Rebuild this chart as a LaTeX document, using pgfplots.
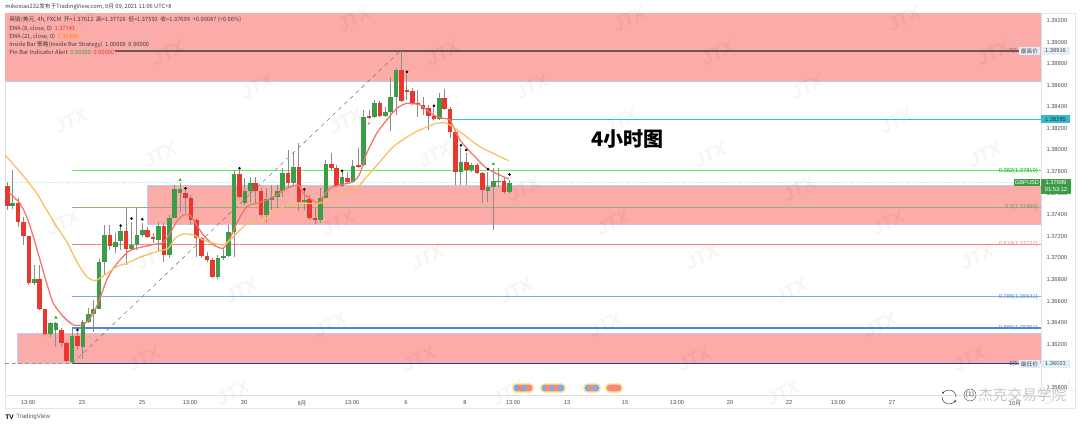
\documentclass[border=0pt]{standalone}
\usepackage{fontspec}
\usepackage{pgfplots}
\usepackage{pgfplotstable}
\pgfplotsset{compat=1.18}
\setmainfont{Liberation Sans}
\newfontfamily\cjk{Noto Sans CJK SC}
\usetikzlibrary{arrows.meta}
\definecolor{zone}{HTML}{FBABA8}
\definecolor{zoneedge}{HTML}{BFC9F2}
\definecolor{cup}{HTML}{3D9C48}
\definecolor{cdown}{HTML}{E8382E}
\definecolor{wick}{HTML}{8C8C8C}
\definecolor{emared}{HTML}{F4746C}
\definecolor{emaorg}{HTML}{F9BE62}
\definecolor{fgreen}{HTML}{62EE62}
\definecolor{folive}{HTML}{98AE78}
\definecolor{fred}{HTML}{F98684}
\definecolor{fblue}{HTML}{82A9EC}
\definecolor{fblue2}{HTML}{4F86E0}
\definecolor{fnavy}{HTML}{27408B}
\definecolor{fcyan}{HTML}{33BBCF}
\definecolor{ftop}{HTML}{6E5656}
\definecolor{paleb}{HTML}{E3EEFB}
\pgfplotstableread{
i o h l c
1 1.37485 1.37815 1.37451 1.37513
5 1.36766 1.36936 1.36750 1.36803
8 1.36300 1.36411 1.36272 1.36395
9 1.36331 1.36411 1.36179 1.36395
12 1.36041 1.36349 1.36031 1.36278
14 1.36173 1.36426 1.36065 1.36411
15 1.36408 1.36534 1.36395 1.36482
16 1.36482 1.36611 1.36318 1.36531
17 1.36531 1.36988 1.36525 1.36966
18 1.36966 1.37306 1.36843 1.37213
20 1.37102 1.37229 1.37044 1.37151
21 1.37155 1.37290 1.37074 1.37253
23 1.37081 1.37337 1.37074 1.37118
24 1.37118 1.37476 1.37074 1.37213
25 1.37213 1.37321 1.37198 1.37263
28 1.37167 1.37337 1.37059 1.37297
30 1.37028 1.37398 1.36997 1.37374
31 1.37374 1.37676 1.37368 1.37636
32 1.37605 1.37692 1.37429 1.37636
39 1.36821 1.37028 1.36803 1.37003
40 1.37003 1.37105 1.36982 1.37019
41 1.37019 1.37306 1.37006 1.37241
42 1.37241 1.37815 1.37013 1.37775
44 1.37506 1.37737 1.37490 1.37623
45 1.37623 1.37753 1.37506 1.37691
48 1.37401 1.37645 1.37336 1.37546
49 1.37537 1.37676 1.37444 1.37568
50 1.37561 1.37676 1.37460 1.37623
51 1.37623 1.37830 1.37568 1.37790
53 1.37691 1.37984 1.37676 1.37839
55 1.37515 1.37629 1.37444 1.37537
58 1.37352 1.37645 1.37321 1.37558
59 1.37558 1.37907 1.37552 1.37867
62 1.37669 1.37799 1.37660 1.37747
64 1.37700 1.37907 1.37697 1.37855
66 1.37861 1.38370 1.37851 1.38308
68 1.38302 1.38463 1.38293 1.38438
70 1.38317 1.38401 1.38308 1.38348
71 1.38348 1.38679 1.38179 1.38493
72 1.38493 1.38756 1.38324 1.38740
80 1.38283 1.38524 1.38277 1.38478
84 1.37799 1.38015 1.37676 1.37892
86 1.37815 1.37876 1.37799 1.37864
89 1.37623 1.37799 1.37521 1.37654
90 1.37654 1.37836 1.37259 1.37710
91 1.37706 1.37830 1.37660 1.37713
93 1.37612 1.37726 1.37592 1.37699
}\upbars
\pgfplotstableread{
i o h l c
0 1.37667 1.37707 1.37445 1.37485
2 1.37513 1.37553 1.37290 1.37331
3 1.37331 1.37383 1.37121 1.37204
4 1.37204 1.37204 1.36750 1.36766
6 1.36803 1.36936 1.36519 1.36528
7 1.36528 1.36528 1.36287 1.36300
10 1.36331 1.36349 1.36179 1.36213
11 1.36213 1.36226 1.36041 1.36050
13 1.36281 1.36318 1.36149 1.36189
19 1.37213 1.37306 1.37074 1.37111
22 1.37253 1.37476 1.36936 1.37081
26 1.37263 1.37290 1.37182 1.37192
27 1.37192 1.37229 1.37136 1.37173
29 1.37297 1.37321 1.36966 1.37028
33 1.37605 1.37645 1.37414 1.37553
34 1.37553 1.37584 1.37306 1.37352
35 1.37352 1.37368 1.37013 1.37182
36 1.37182 1.37198 1.36997 1.37019
37 1.37019 1.37059 1.36966 1.36982
38 1.36982 1.36997 1.36812 1.36821
43 1.37774 1.37815 1.37552 1.37568
46 1.37691 1.37753 1.37506 1.37623
47 1.37623 1.37645 1.37382 1.37401
52 1.37790 1.38000 1.37660 1.37691
54 1.37839 1.38061 1.37438 1.37515
56 1.37543 1.37583 1.37352 1.37367
57 1.37367 1.37460 1.37315 1.37352
60 1.37867 1.37969 1.37814 1.37833
61 1.37833 1.37861 1.37660 1.37669
63 1.37740 1.37799 1.37691 1.37700
65 1.37858 1.38015 1.37830 1.37842
67 1.38314 1.38370 1.38293 1.38299
69 1.38438 1.38453 1.38308 1.38317
73 1.38740 1.38916 1.38447 1.38453
74 1.38555 1.38709 1.38463 1.38540
75 1.38549 1.38571 1.38416 1.38432
76 1.38438 1.38555 1.38308 1.38422
77 1.38416 1.38493 1.38324 1.38379
78 1.38385 1.38416 1.38185 1.38314
79 1.38314 1.38401 1.38277 1.38283
81 1.38478 1.38561 1.38370 1.38379
82 1.38379 1.38401 1.38108 1.38169
83 1.38169 1.38185 1.37676 1.37799
85 1.37892 1.37969 1.37676 1.37815
87 1.37861 1.37876 1.37784 1.37790
88 1.37790 1.37799 1.37506 1.37629
92 1.37710 1.37737 1.37592 1.37614
}\downbars
\newcommand{\fsmall}{\fontsize{4.3}{5}\selectfont}
\begin{document}
\begin{tikzpicture}
\path[use as bounding box] (0,0) rectangle (810pt,320.25pt);
\begin{axis}[
  at={(3.75pt,24pt)}, anchor=south west,
  scale only axis, width=777pt, height=286.5pt,
  xmin=5, xmax=1041, ymin=1.35731, ymax=1.39269,
  axis line style={draw=black!12, line width=0.4pt},
  tick style={draw=none},
  yticklabel pos=right,
  ytick={1.358,1.360,1.362,1.364,1.366,1.368,1.370,1.372,1.374,1.376,1.378,1.380,1.382,1.384,1.386,1.388,1.390,1.392},
  /pgf/number format/fixed,
  /pgf/number format/fixed zerofill,
  /pgf/number format/precision=5,
  /pgf/number format/assume math mode=true,
  /pgf/number format/1000 sep={},
  scaled y ticks=false,
  ticklabel style={font=\fsmall, text=black!70},
  xtick={28,82,142,190,244,302,352,406,465,513,567,625,677,730,789,838,892,1015},
  xticklabels={13:00,23,25,13:00,30,{\cjk 8月},13:00,6,8,13:00,13,15,13:00,20,22,13:00,27,{\cjk 10月}},
  xticklabel style={yshift=-0.6pt},
  yticklabel style={xshift=0.6pt},
  clip=true,
]
% zones
\addplot[fill=zone, draw=none, forget plot] coordinates {(5,1.39269)(1041,1.39269)(1041,1.38639)(5,1.38639)} -- cycle;
\addplot[fill=zone, draw=zoneedge, line width=0.7pt, forget plot] coordinates {(147.3,1.37669)(1041,1.37669)(1041,1.37312)(147.3,1.37312)} -- cycle;
\addplot[fill=zone, draw=zoneedge, line width=0.7pt, forget plot] coordinates {(17.5,1.36303)(1041,1.36303)(1041,1.36021)(17.5,1.36021)} -- cycle;
\addplot[zoneedge, line width=0.7pt, forget plot] coordinates {(5,1.38639)(1041,1.38639)};
% pale current price line
\addplot[fgreen!45, densely dotted, line width=0.4pt, forget plot] coordinates {(5,1.37699)(1041,1.37699)};
% fib levels
\addplot[ftop, line width=1pt, forget plot] coordinates {(115,1.38916)(1019,1.38916)};
\addplot[fcyan, line width=1pt, forget plot] coordinates {(452,1.38284)(1041,1.38284)};
\addplot[fgreen, line width=1.1pt, forget plot] coordinates {(72,1.37810)(1041,1.37810)};
\addplot[folive, line width=1.1pt, forget plot] coordinates {(72,1.37469)(1041,1.37469)};
\addplot[fred, line width=1pt, forget plot] coordinates {(72,1.37127)(1041,1.37127)};
\addplot[fblue, line width=1pt, forget plot] coordinates {(72,1.36641)(1041,1.36641)};
\addplot[fblue2, line width=1pt, forget plot] coordinates {(72,1.36351)(1041,1.36351)};
\addplot[fnavy, line width=1.1pt, forget plot] coordinates {(72,1.36021)(1019,1.36021)};
\addplot[black!40, densely dashed, line width=0.35pt, forget plot] coordinates {(5,1.36021)(72,1.36021)};
\addplot[black!50, dashed, line width=0.45pt, forget plot] coordinates {(72,1.36021)(400,1.38916)};
% wicks
\addplot[draw=none, mark=none, forget plot, error bars/.cd, y dir=both, y explicit, error mark=none, error bar style={wick, line width=0.7pt}]
  table[x expr=7.3+5.4*\thisrow{i}, y=c, y error plus expr=\thisrow{h}-\thisrow{c}, y error minus expr=\thisrow{c}-\thisrow{l}] {\upbars};
\addplot[draw=none, mark=none, forget plot, error bars/.cd, y dir=both, y explicit, error mark=none, error bar style={wick, line width=0.7pt}]
  table[x expr=7.3+5.4*\thisrow{i}, y=c, y error plus expr=\thisrow{h}-\thisrow{c}, y error minus expr=\thisrow{c}-\thisrow{l}] {\downbars};
% bodies
\addplot[draw=none, mark=none, forget plot, error bars/.cd, y dir=both, y explicit, error mark=none, error bar style={cup, line width=3.4pt}]
  table[x expr=7.3+5.4*\thisrow{i}, y=c, y error plus expr=0, y error minus expr=\thisrow{c}-\thisrow{o}] {\upbars};
\addplot[draw=none, mark=none, forget plot, error bars/.cd, y dir=both, y explicit, error mark=none, error bar style={cdown, line width=3.4pt}]
  table[x expr=7.3+5.4*\thisrow{i}, y=o, y error plus expr=0, y error minus expr=\thisrow{o}-\thisrow{c}] {\downbars};
% EMA 8
\addplot[emared, line width=0.95pt, smooth, tension=0.4, forget plot] coordinates {
(9.3,1.37605)(15,1.37553)(20,1.37506)(26.7,1.37383)(33.3,1.37198)(40,1.36982)(46.7,1.36766)(53.3,1.36581)(63.3,1.36457)(73.3,1.36380)(81.7,1.36380)(88.3,1.36420)(95,1.36519)(100,1.36627)(106.7,1.36797)(113.3,1.36905)(120,1.36982)(128.3,1.37059)(136.7,1.37090)(146.7,1.37111)(156.7,1.37130)(163.3,1.37142)(170,1.37229)(176.7,1.37337)(183.3,1.37398)(190,1.37398)(196.7,1.37306)(203.3,1.37213)(213.3,1.37121)(223.3,1.37090)(230,1.37182)(236.7,1.37321)(246.7,1.37475)(256.7,1.37506)(266.7,1.37537)(276.7,1.37583)(286.7,1.37645)(298.3,1.37676)(303.3,1.37598)(310,1.37552)(318.3,1.37506)(323.3,1.37568)(330,1.37645)(340,1.37676)(353.3,1.37706)(360,1.37784)(366.7,1.37969)(376.7,1.38154)(386.7,1.38277)(396.7,1.38385)(406.7,1.38432)(420,1.38416)(433.3,1.38324)(443.3,1.38293)(450,1.38277)(460,1.38092)(473.3,1.37953)(486.7,1.37830)(503.3,1.37753)(508.7,1.37734)};
% EMA 21
\addplot[emaorg, line width=0.95pt, smooth, tension=0.4, forget plot] coordinates {
(5,1.37954)(18.3,1.37815)(26.7,1.37722)(36.7,1.37599)(46.7,1.37445)(56.7,1.37290)(66.7,1.37152)(76.7,1.36966)(86.7,1.36828)(95,1.36790)(103.3,1.36834)(116.7,1.36920)(126.7,1.36951)(140,1.37006)(156.7,1.37059)(168.3,1.37090)(175,1.37182)(183.3,1.37222)(193.3,1.37213)(203.3,1.37167)(213.3,1.37136)(223.3,1.37121)(230,1.37167)(240,1.37260)(250,1.37337)(263.3,1.37352)(276.7,1.37429)(286.7,1.37490)(303.3,1.37506)(320,1.37506)(330,1.37552)(343.3,1.37598)(356.7,1.37645)(366.7,1.37753)(380,1.37892)(393.3,1.38030)(410,1.38138)(423.3,1.38200)(436.7,1.38247)(446.7,1.38247)(460,1.38169)(480,1.38030)(508.7,1.37901)};
% signal marks
\addplot[only marks, mark=*, mark size=0.75pt, black, forget plot] coordinates {
(77.5,1.36334)(120.7,1.37300)(131.5,1.37365)(142.3,1.37358)(185.5,1.37645)(239.5,1.37830)(304.3,1.37635)(342.1,1.37808)(406.9,1.38725)(433.9,1.38410)(460.9,1.38043)(466.3,1.38000)(487.9,1.37824)(509.5,1.37774)};
\addplot[only marks, mark=triangle*, mark size=1pt, green!70!black, opacity=0.8, forget plot] coordinates {(55.9,1.36448)(180.1,1.37722)(493.3,1.37870)};
\addplot[only marks, mark=triangle*, mark size=1pt, mark options={rotate=180}, fred, forget plot] coordinates {(369.1,1.38246)};
\end{axis}
\begin{scope}[x=0.75pt,y=-0.75pt,shift={(0pt,320.25pt)}]
% frame
\draw[black!10, line width=0.4pt] (5,408) -- (1075,408) -- (1075,13) -- (1041,13);
\draw[black!10, line width=0.4pt] (5,395) -- (5,408);
% header and legend
\tikzset{lg/.style={anchor=west, inner sep=0pt, font=\fsmall\cjk, text=black!75}}
\node[lg] at (5,7) {mikoxiao232发布于TradingView.com, 9月 09, 2021 11:06 UTC+8};
\node[lg] at (9,20) {英镑/美元, 4h, FXCM\ \ 开=1.37612\ \ 高=1.37726\ \ 低=1.37592\ \ 收=1.37699\ \ +0.00087 (+0.06\%)};
\node[lg] at (9,28.5) {EMA (8, close, 0)\ \ \textcolor{cdown}{1.37741}};
\node[lg] at (9,37) {EMA (21, close, 0)\ \ \textcolor{orange}{1.37900}};
\node[lg] at (9,45) {Inside Bar 策略(Inside Bar Strategy)\ \ 1.00000\ \ 0.00000};
\node[lg] at (9,52.5) {Pin Bar Indicator Alert\ \ \textcolor{cup}{0.00000}\ \ \textcolor{cdown}{0.00000}};
% chart title
\node[inner sep=0pt, text=black] at (627.5,139) {\fontsize{15}{16}\selectfont\cjk\bfseries 4小时图};
% fib labels
\tikzset{fb/.style={anchor=east, inner sep=0pt, font=\fsmall}}
\node[fb, text=green!70!black] at (1038,170.7) {0.382(1.37810)};
\node[fb, text=folive!85!black] at (1038,207) {0.5(1.37469)};
\node[fb, text=fred] at (1038,244) {0.618(1.37127)};
\node[fb, text=fblue2] at (1038,297) {0.786(1.36641)};
\node[fb, text=fblue2] at (1038,328) {0.886(1.36351)};
\node[fb, anchor=west, text=ftop] at (1009,51) {0(1.38916)};
\node[fb, anchor=west, text=fnavy] at (1009,364) {1(1.36021)};
% price boxes
\fill[paleb] (1019,47.5) rectangle (1040,55);
\node[inner sep=0pt, font=\fsmall\cjk, text=black!70] at (1029.5,51) {最高价};
\fill[paleb] (1041,47.5) rectangle (1070,55);
\node[inner sep=0pt, font=\fsmall, text=black!70] at (1055.5,51) {1.38916};
\fill[paleb] (1019,360) rectangle (1040,368);
\node[inner sep=0pt, font=\fsmall\cjk, text=black!70] at (1029.5,364) {最低价};
\fill[paleb] (1041,360) rectangle (1070,368);
\node[inner sep=0pt, font=\fsmall, text=black!70] at (1055.5,364) {1.36021};
\fill[fcyan] (1041,115) rectangle (1070,123.5);
\node[inner sep=0pt, font=\fsmall, text=black!80] at (1055.5,119.3) {1.38285};
\fill[cup] (1014,179.5) rectangle (1040,186.5);
\node[inner sep=0pt, font=\fsmall, text=white] at (1027,183) {GBPUSD};
\fill[cup] (1041,179.5) rectangle (1071,194);
\node[inner sep=0pt, font=\fsmall, text=white] at (1056,183) {1.37699};
\node[inner sep=0pt, font=\fsmall, text=white] at (1056,189.8) {01:53:12};
% event icons
\foreach \xx/\cc in {517/fblue,521/fred,525/fblue,529/fred,545/fblue,549/fred,553/fblue,557/fred,561/fblue,588/fblue,592/fred,596/fblue,610/fred,614/fred,618/fred}{
  \fill[yellow!60!orange, opacity=0.5] (\xx,388) circle[radius=5];
}
\foreach \xx/\cc in {517/fblue,521/fred,525/fblue,529/fred,545/fblue,549/fred,553/fblue,557/fred,561/fblue,588/fblue,592/fred,596/fblue,610/fred,614/fred,618/fred}{
  \fill[\cc] (\xx,388) circle[radius=3.4];
}
% TradingView mark
\node[anchor=west, inner sep=0pt, font=\fontsize{5}{5}\selectfont\bfseries] at (5,417) {TV};
\node[anchor=west, inner sep=0pt, font=\fontsize{4.6}{5}\selectfont, text=black!65] at (16,417) {TradingView};
% site watermark
\draw[black!80, line width=0.35pt, -{Latex[length=2pt]}] (942,397) arc[start angle=180,end angle=20,radius=7];
\draw[black!80, line width=0.35pt, -{Latex[length=2pt]}] (956,397) arc[start angle=0,end angle=-160,radius=7];
\draw[black!75, line width=0.3pt] (970,395) circle[radius=6];
\node[inner sep=0pt, font=\fontsize{5}{5}\selectfont, text=black!75] at (970,395) {(1)};
\node[anchor=west, inner sep=0pt, font=\fontsize{11}{12}\selectfont\cjk, text=black!22] at (978,395) {杰克交易学院};
% JTX watermark
\foreach \k in {0,...,11}{
  \pgfmathsetmacro\xo{mod(233+186*\k,275)}
  \pgfmathsetmacro\yo{393-34*\k}
  \foreach \m in {0,1,2,3}{
    \pgfmathsetmacro\xp{\xo+275*\m}
    \pgfmathtruncatemacro\keep{and(\xp>18,\xp<1060)}
    \ifnum\keep=1
      \node[rotate=28, inner sep=0pt, text=black, opacity=0.04, font=\fontsize{14}{14}\selectfont\bfseries\itshape] at (\xp,\yo) {JTX};
    \fi
  }
}
\end{scope}
\end{tikzpicture}
\end{document}
